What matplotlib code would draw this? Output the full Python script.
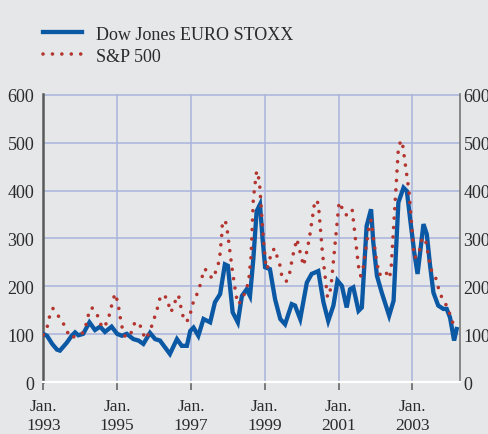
import matplotlib
matplotlib.use("Agg")
import matplotlib.pyplot as plt

# ---- data ----
stoxx_t = [1993.02, 1993.10, 1993.24, 1993.37, 1993.45, 1993.63, 1993.77, 1993.86, 1993.95,
           1994.08, 1994.25, 1994.40, 1994.54, 1994.67, 1994.85, 1995.00, 1995.13, 1995.26,
           1995.44, 1995.58, 1995.71, 1995.89, 1996.03, 1996.16, 1996.43, 1996.62, 1996.75,
           1996.89, 1996.98, 1997.07, 1997.20, 1997.34, 1997.52, 1997.65, 1997.79, 1997.92,
           1998.00, 1998.13, 1998.27, 1998.38, 1998.51, 1998.60, 1998.69, 1998.78, 1998.87,
           1998.94, 1999.01, 1999.14, 1999.28, 1999.42, 1999.55, 1999.73, 1999.82, 1999.96,
           2000.14, 2000.27, 2000.45, 2000.59, 2000.72, 2000.86, 2000.97, 2001.09, 2001.22,
           2001.31, 2001.40, 2001.54, 2001.63, 2001.76, 2001.88, 2001.94, 2002.04, 2002.17,
           2002.37, 2002.49, 2002.62, 2002.76, 2002.85, 2002.94, 2003.05, 2003.14, 2003.21,
           2003.30, 2003.39, 2003.48, 2003.57, 2003.70, 2003.84, 2003.93, 2004.02, 2004.13,
           2004.20]
stoxx_v = [100, 97, 80, 68, 66, 82, 97, 104, 98,
           101, 125, 109, 116, 105, 116, 101, 97, 101,
           90, 87, 80, 103, 90, 87, 59, 90, 76,
           76, 107, 114, 97, 132, 125, 167, 184, 246,
           243, 146, 125, 180, 194, 180, 257, 357, 371,
           300, 240, 236, 173, 132, 121, 163, 160, 132,
           208, 226, 232, 167, 128, 160, 212, 201, 156,
           194, 198, 149, 156, 326, 361, 292, 222, 187,
           139, 170, 375, 406, 399, 340, 271, 226, 271,
           330, 309, 243, 187, 160, 153, 153, 135, 87,
           111]

sp_t = [1993.00, 1993.11, 1993.16, 1993.26, 1993.39, 1993.53, 1993.63, 1993.77, 1993.91,
        1994.07, 1994.16, 1994.22, 1994.31, 1994.45, 1994.52, 1994.63, 1994.76, 1994.81,
        1994.88, 1994.94, 1995.02, 1995.06, 1995.10, 1995.15, 1995.23, 1995.40, 1995.47,
        1995.60, 1995.67, 1995.78, 1995.89, 1995.97, 1996.05, 1996.12, 1996.18, 1996.34,
        1996.41, 1996.46, 1996.55, 1996.66, 1996.71, 1996.75, 1996.84, 1996.95, 1997.00,
        1997.07, 1997.17, 1997.25, 1997.31, 1997.38, 1997.50, 1997.63, 1997.68, 1997.77,
        1997.84, 1997.85, 1997.93, 1997.98, 1998.11, 1998.18, 1998.22, 1998.27, 1998.38,
        1998.47, 1998.56, 1998.63, 1998.69, 1998.78, 1998.85, 1998.87, 1998.94, 1998.98,
        1999.03, 1999.06, 1999.13, 1999.19, 1999.28, 1999.34, 1999.42, 1999.46, 1999.58,
        1999.67, 1999.76, 1999.87, 1999.93, 2000.05, 2000.11, 2000.21, 2000.36, 2000.45,
        2000.56, 2000.70, 2000.79, 2001.01, 2001.07, 2001.10, 2001.25, 2001.37, 2001.54,
        2001.60, 2001.66, 2001.84, 2001.88, 2002.02, 2002.10, 2002.26, 2002.37, 2002.42,
        2002.62, 2002.69, 2002.74, 2002.91, 2003.05, 2003.16, 2003.27, 2003.36, 2003.50,
        2003.62, 2003.75, 2003.87, 2003.98, 2004.05, 2004.14, 2004.20]
sp_v = [99, 117, 135, 154, 140, 125, 107, 92, 99,
        103, 121, 140, 156, 144, 125, 113, 130, 149,
        168, 185, 167, 147, 128, 109, 93, 105, 123,
        125, 106, 90, 107, 125, 144, 162, 182, 177,
        158, 146, 165, 182, 165, 146, 126, 131, 149,
        169, 185, 203, 222, 237, 221, 217, 236, 253,
        312, 332, 338, 319, 240, 203, 183, 163, 170,
        190, 208, 264, 383, 441, 422, 403, 323, 285,
        243, 236, 255, 274, 279, 260, 242, 222, 210,
        226, 264, 299, 280, 243, 262, 301, 380, 374,
        272, 177, 196, 373, 375, 356, 347, 359, 242,
        222, 236, 333, 338, 258, 224, 233, 217, 233,
        488, 505, 493, 397, 260, 264, 302, 295, 236,
        221, 184, 168, 151, 132, 117, 112]

series_labels = ["Dow Jones EURO STOXX", "S&P 500"]
xtick_years = [1993, 1995, 1997, 1999, 2001, 2003]
xtick_labels = ["Jan.\n%d" % y for y in xtick_years]
ytick_vals = [0, 100, 200, 300, 400, 500, 600]

# ---- style ----
BG = "#e6e7e9"
BLUE = "#0b58a4"
RED = "#b3352f"
GRID = "#a9b4dc"
TXT = "#2b2b2b"
FONT = "Liberation Serif"

plt.rcParams["font.family"] = FONT

fig = plt.figure(figsize=(4.89, 4.35), dpi=100, facecolor=BG)
ax = fig.add_axes([0.0886, 0.119, 0.8521, 0.662])
ax.set_facecolor(BG)

l1, = ax.plot(stoxx_t, stoxx_v, color=BLUE, lw=3.1, solid_joinstyle="miter", zorder=3)
l2, = ax.plot(sp_t, sp_v, color=RED, lw=2.6, linestyle=(0, (0.01, 2.6)),
              dash_capstyle="round", zorder=4)

ax.set_xlim(1993.0, 2004.29)
ax.set_ylim(0, 601)
ax.set_xticks(xtick_years)
ax.set_xticklabels(xtick_labels, fontsize=12.5, color=TXT, linespacing=1.2)
ax.set_yticks(ytick_vals)
ax.set_yticklabels([str(v) for v in ytick_vals], fontsize=13, color=TXT)
ax.tick_params(axis="y", length=0, pad=6.5)
ax.tick_params(axis="x", length=6, width=1.2, color="#666666", direction="out", pad=5.5)

ax.grid(True, color=GRID, lw=1.1, zorder=1)
ax.set_axisbelow(True)

ax.spines["top"].set_visible(False)
ax.spines["left"].set_color("#5a5a5a")
ax.spines["left"].set_linewidth(1.8)
ax.spines["right"].set_color("#777777")
ax.spines["right"].set_linewidth(1.2)
ax.spines["bottom"].set_color("white")
ax.spines["bottom"].set_linewidth(1.6)

ax2 = ax.twinx()
ax2.set_ylim(ax.get_ylim())
ax2.set_yticks(ytick_vals)
ax2.set_yticklabels([str(v) for v in ytick_vals], fontsize=13, color=TXT)
ax2.tick_params(axis="y", length=0, pad=2.5)
for s in ["top", "left", "bottom", "right"]:
    ax2.spines[s].set_visible(False)

leg = fig.legend([l1, l2], series_labels, loc="upper left",
                 bbox_to_anchor=(0.088, 0.939), frameon=False, fontsize=13,
                 handlelength=2.16, handletextpad=0.78, labelspacing=0.28,
                 borderpad=0, borderaxespad=0)
for t in leg.get_texts():
    t.set_color(TXT)

fig.savefig("out.png", dpi=100, facecolor=BG)
